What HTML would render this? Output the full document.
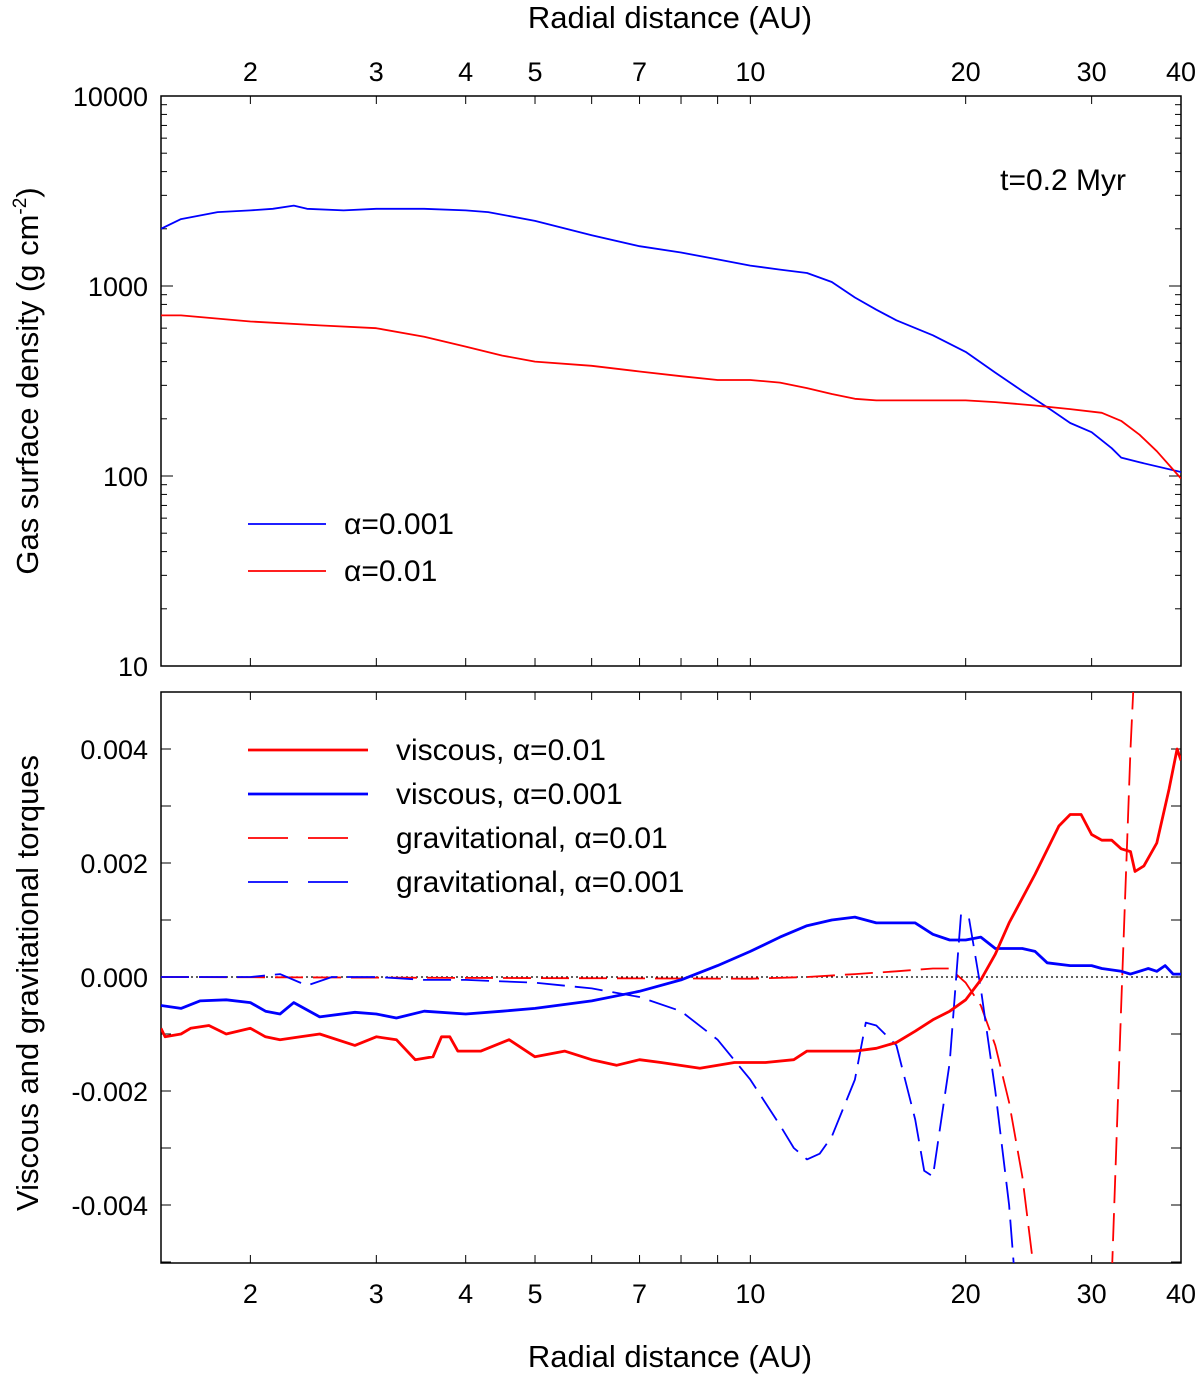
<!DOCTYPE html>
<html><head><meta charset="utf-8"><style>
html,body{margin:0;padding:0;background:#fff;overflow:hidden;width:1200px;height:1377px}
svg{display:block;font-family:"Liberation Sans",sans-serif;overflow:hidden}
</style></head><body>
<svg id="c" width="1200" height="1377" viewBox="0 0 1200 1377"></svg>
<script>
const topBlueX=[1.5,1.6,1.8,2.0,2.15,2.3,2.4,2.7,3,3.5,4,4.3,5,6,7,8,9,10,11,12,13,14,15,16,18,20,22,24,26,28,30,32,33,35,40];
const topBlueY=[2000,2250,2450,2500,2550,2650,2550,2500,2550,2550,2500,2450,2200,1850,1620,1500,1380,1280,1220,1170,1050,870,750,660,550,450,350,280,230,190,170,140,125,118,105];
const topRedX=[1.5,1.6,2,2.5,3,3.5,4,4.5,5,6,7,8,9,10,11,12,13,14,15,17,20,22,25,28,31,33,35,37,40];
const topRedY=[700,700,650,620,600,540,480,430,400,380,355,335,320,320,310,290,270,255,250,250,250,245,235,225,215,195,165,135,97];
// torque values in units of 0.001
const visRedX=[1.5,1.52,1.6,1.65,1.75,1.85,2.0,2.1,2.2,2.35,2.5,2.8,3.0,3.2,3.4,3.6,3.7,3.8,3.9,4.2,4.6,5,5.5,6,6.5,7,7.5,8.5,9.5,10.5,11.5,12,14,15,16,17,18,19,20,21,22,23,25,27,28,29,30,31,32,33,34,34.5,35.5,37,38.5,39.5,40];
const visRedY=[-0.9,-1.05,-1.0,-0.9,-0.85,-1.0,-0.9,-1.05,-1.1,-1.05,-1.0,-1.2,-1.05,-1.1,-1.45,-1.4,-1.05,-1.05,-1.3,-1.3,-1.1,-1.4,-1.3,-1.45,-1.55,-1.45,-1.5,-1.6,-1.5,-1.5,-1.45,-1.3,-1.3,-1.25,-1.15,-0.95,-0.75,-0.6,-0.4,-0.05,0.4,0.95,1.8,2.65,2.85,2.85,2.5,2.4,2.4,2.25,2.2,1.85,1.95,2.35,3.3,4.0,3.8];
const visBlueX=[1.5,1.6,1.7,1.85,2,2.1,2.2,2.3,2.5,2.8,3.0,3.2,3.5,4,4.5,5,6,7,8,9,10,11,12,13,14,15,16,17,18,19,20,21,22,24,25,26,28,30,31,33,34,36,37,38,39,40];
const visBlueY=[-0.5,-0.55,-0.42,-0.4,-0.45,-0.6,-0.65,-0.45,-0.7,-0.62,-0.65,-0.72,-0.6,-0.65,-0.6,-0.55,-0.42,-0.25,-0.05,0.2,0.45,0.7,0.9,1.0,1.05,0.95,0.95,0.95,0.75,0.65,0.65,0.7,0.5,0.5,0.45,0.25,0.2,0.2,0.15,0.1,0.05,0.15,0.1,0.2,0.05,0.05];
const gravRedX=[1.5,10,12,14,16,18,19,20,21,22,23,24,25,null,32,33,34,34.6];
const gravRedY=[0,-0.03,0,0.05,0.1,0.15,0.15,-0.1,-0.5,-1.2,-2.2,-3.5,-5.3,null,-5.3,-0.5,4,6];
const gravBlueX=[1.5,2,2.2,2.4,2.6,3,3.5,4,5,6,7,8,9,10,11,11.5,12,12.5,13,14,14.5,15,16,17,17.5,18,19,19.7,20.2,21,22,23,23.5];
const gravBlueY=[0,0,0.05,-0.15,0,0,-0.05,-0.05,-0.1,-0.2,-0.35,-0.6,-1.1,-1.8,-2.6,-3.0,-3.2,-3.1,-2.8,-1.8,-0.8,-0.85,-1.2,-2.5,-3.4,-3.5,-1.5,1.1,1.05,-0.2,-2,-4,-5.5];
const xTicks=[2,3,4,5,7,10,20,30,40];
const topYTicks=[10,100,1000,10000];
const botYTicks=[-4,-2,0,2,4];

const NS="http://www.w3.org/2000/svg", svg=document.getElementById('c');
const L=161,R=1181,T1=96,B1=666,T2=692,B2=1263;
const xs=v=>L+(Math.log10(v)-Math.log10(1.5))/(Math.log10(40)-Math.log10(1.5))*(R-L);
const y1=v=>T1+(4-Math.log10(v))*(B1-T1)/3;
const y2=v=>977-v*57;
function el(tag,attrs,parent){const e=document.createElementNS(NS,tag);for(const k in attrs)e.setAttribute(k,attrs[k]);(parent||svg).appendChild(e);return e;}
function txt(s,x,y,size,anchor,name){const t=el('text',{x:x,y:y,'font-size':size,'text-anchor':anchor||'middle',fill:'#000'});t.innerHTML=s;

return t;}
const defs=el('defs',{});
el('rect',{x:L,y:T1,width:R-L,height:B1-T1},el('clipPath',{id:'cp1'},defs));
el('rect',{x:L,y:T2,width:R-L,height:B2-T2},el('clipPath',{id:'cp2'},defs));
function series(X,Y,yf,color,w,dash,clip,name){
  let d='',pen=false;
  for(let i=0;i<X.length;i++){ if(X[i]===null){pen=false;continue;}
    d+=(pen?'L':'M')+xs(X[i]).toFixed(1)+','+yf(Y[i]).toFixed(1);pen=true;}
  const p=el('path',{d:d,fill:'none',stroke:color,'stroke-width':w,'clip-path':'url(#'+clip+')','stroke-linejoin':'round'});
  if(dash)p.setAttribute('stroke-dasharray',dash);
  
  
}
const f1=el('rect',{x:L,y:T1,width:R-L,height:B1-T1,fill:'none',stroke:'#000','stroke-width':1.5});


const f2=el('rect',{x:L,y:T2,width:R-L,height:B2-T2,fill:'none',stroke:'#000','stroke-width':1.5});


for(let v=2;v<=40;v+=(v<10?1:10)){const x=xs(v);
 el('line',{x1:x,y1:T1,x2:x,y2:T1+8,stroke:'#000'});el('line',{x1:x,y1:B1,x2:x,y2:B1-8,stroke:'#000'});
 el('line',{x1:x,y1:T2,x2:x,y2:T2+8,stroke:'#000'});el('line',{x1:x,y1:B2,x2:x,y2:B2-8,stroke:'#000'});}
xTicks.forEach(v=>{txt(String(v),xs(v),81,27,'middle','top-x-tick-label');txt(String(v),xs(v),1303,27,'middle','bottom-x-tick-label');});
for(let d=10;d<10000;d*=10)for(let m=1;m<10;m++){const y=y1(d*m),len=m==1?12:6;
 el('line',{x1:L,y1:y,x2:L+len,y2:y,stroke:'#000'});el('line',{x1:R,y1:y,x2:R-len,y2:y,stroke:'#000'});}
topYTicks.forEach(v=>txt(String(v),148,y1(v)+10,27,'end','top-y-tick-label'));
for(let v=-5;v<=5;v++){const y=y2(v);
 el('line',{x1:L,y1:y,x2:L+10,y2:y,stroke:'#000'});el('line',{x1:R,y1:y,x2:R-10,y2:y,stroke:'#000'});}
botYTicks.forEach(v=>txt((v/1000).toFixed(3),148,y2(v)+10,27,'end','bottom-y-tick-label'));
const z=el('line',{x1:L,y1:y2(0),x2:R,y2:y2(0),stroke:'#000','stroke-width':1.3,'stroke-dasharray':'2,3'});


series(topBlueX,topBlueY,y1,'#0000ff',1.8,null,'cp1','density-alpha-0.001');
series(topRedX,topRedY,y1,'#ff0000',1.8,null,'cp1','density-alpha-0.01');
series(gravRedX,gravRedY,y2,'#ff0000',1.8,'28,10','cp2','grav-torque-alpha-0.01');
series(gravBlueX,gravBlueY,y2,'#0000ff',1.8,'28,10','cp2','grav-torque-alpha-0.001');
series(visBlueX,visBlueY,y2,'#0000ff',2.8,null,'cp2','viscous-torque-alpha-0.001');
series(visRedX,visRedY,y2,'#ff0000',2.8,null,'cp2','viscous-torque-alpha-0.01');
txt('Radial distance (AU)',670,28,31,'middle','top-x-axis-title');
txt('Radial distance (AU)',670,1367,31,'middle','bottom-x-axis-title');
txt('Gas surface density (g cm<tspan dy="-12" font-size="19">-2</tspan><tspan dy="12">)</tspan>',0,0,31,'middle','top-y-axis-title').setAttribute('transform','translate(38,381) rotate(-90)');
txt('Viscous and gravitational torques',0,0,31,'middle','bottom-y-axis-title').setAttribute('transform','translate(38,983) rotate(-90)');
txt('t=0.2 Myr',1126,190,30,'end','time-annotation');
function leg(y,color,w,dash,x1,x2,tx,label,name){const l=el('line',{x1:x1,y1:y,x2:x2,y2:y,stroke:color,'stroke-width':w});
 if(dash)l.setAttribute('stroke-dasharray',dash);
 
 
 txt(label,tx,y+10,30,'start',name+'-label');}
leg(524,'#0000ff',1.8,null,248,326,344,'α=0.001','legend-alpha-0.001');
leg(571,'#ff0000',1.8,null,248,326,344,'α=0.01','legend-alpha-0.01');
leg(750,'#ff0000',2.8,null,248,368,396,'viscous, α=0.01','legend-viscous-0.01');
leg(794,'#0000ff',2.8,null,248,368,396,'viscous, α=0.001','legend-viscous-0.001');
leg(838,'#ff0000',1.8,'40,20',248,368,396,'gravitational, α=0.01','legend-grav-0.01');
leg(882,'#0000ff',1.8,'40,20',248,368,396,'gravitational, α=0.001','legend-grav-0.001');
</script>
</body></html>
